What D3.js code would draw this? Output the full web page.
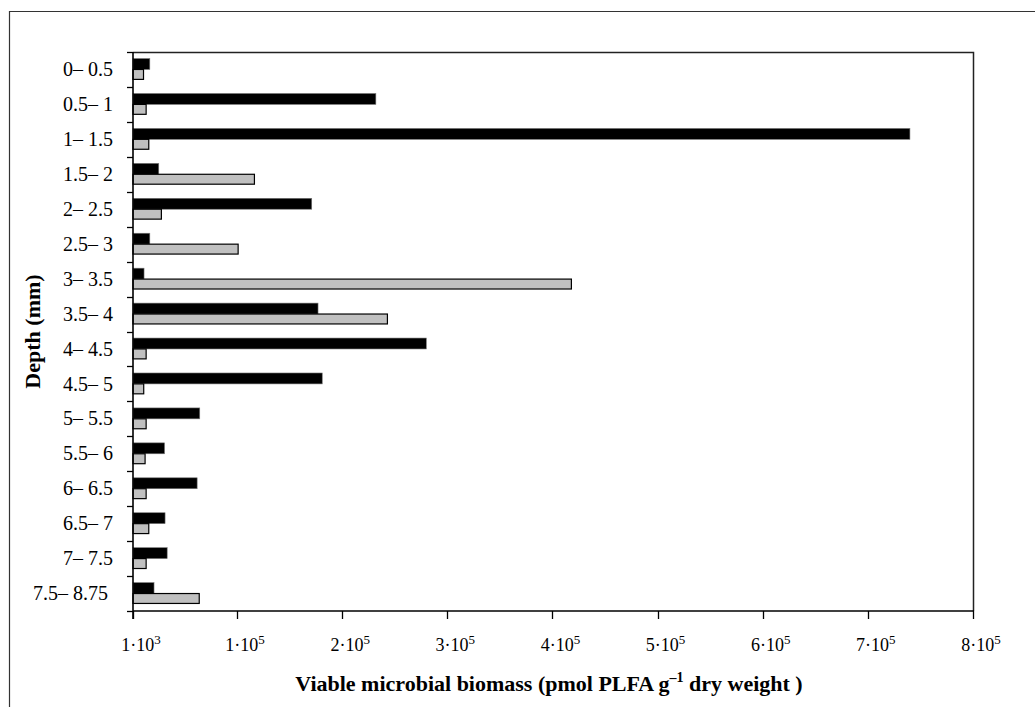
<!DOCTYPE html>
<html>
<head>
<meta charset="utf-8">
<script src="https://cdn.jsdelivr.net/npm/d3@7/dist/d3.min.js"></script>
<style>
  html, body { margin: 0; padding: 0; background: #fff; }
  svg { display: block; }
  text { font-family: "Liberation Serif", "Times New Roman", serif; fill: #000; white-space: pre; }
</style>
</head>
<body>
<svg id="chart" width="1035" height="707"></svg>
<script>
// ---- data ----
const depths = ["0– 0.5", "0.5– 1", "1– 1.5", "1.5– 2", "2– 2.5", "2.5– 3", "3– 3.5", "3.5– 4",
                "4– 4.5", "4.5– 5", "5– 5.5", "5.5– 6", "6– 6.5", "6.5– 7", "7– 7.5", "7.5– 8.75 "];
const seriesBlack = [17000, 232000, 740000, 25500, 171000, 17000, 11500, 177000,
                     280000, 181000, 64500, 31000, 62000, 31500, 33500, 21000];
const seriesGray  = [11000, 13500, 16000, 116500, 28000, 101000, 418000, 243000,
                     13500, 11200, 13500, 12500, 13500, 16000, 13500, 64000];
const seriesNames = ["black", "gray"];
const tickValues = [1000, 100000, 200000, 300000, 400000, 500000, 600000, 700000, 800000];
const tickMantissa = ["1", "1", "2", "3", "4", "5", "6", "7", "8"];
const tickExponent = ["3", "5", "5", "5", "5", "5", "5", "5", "5"];
const xTitle = "Viable microbial biomass (pmol PLFA g";
const yTitle = "Depth (mm)";

(function () {
// ---- layout ----
const svg = d3.select("#chart");
const pLeft = 133, pRight = 973, pTop = 52, pBottom = 611;

// outer frame (runs off right/bottom edge)
svg.append("path")
  .attr("d", `M9.5,${707 + 5} V11.5 H${1035 + 5}`)
  .attr("fill", "none").attr("stroke", "#333").attr("stroke-width", 1.2);

const x = d3.scaleLinear().domain([1000, 800000]).range([pLeft, pRight]);
const y = d3.scaleBand().domain(depths).range([pTop, pBottom]).padding(0);
const ys = d3.scaleBand().domain(seriesNames).range([0, y.bandwidth()])
  .paddingInner(0).paddingOuter(0.6);

// plot frame top/right
svg.append("path")
  .attr("d", `M${pLeft},${pTop + 0.5} H${pRight + 0.5} V${pBottom}`)
  .attr("fill", "none").attr("stroke", "#222").attr("stroke-width", 1.5);

// bars
const g = svg.append("g");
depths.forEach((d, i) => {
  g.append("rect")
    .attr("x", x(1000))
    .attr("y", y(d) + ys("black"))
    .attr("width", x(seriesBlack[i]) - x(1000))
    .attr("height", ys.bandwidth())
    .attr("fill", "#000")
    .attr("stroke", "#777").attr("stroke-width", 0.6);
  g.append("rect")
    .attr("x", x(1000))
    .attr("y", y(d) + ys("gray"))
    .attr("width", x(seriesGray[i]) - x(1000))
    .attr("height", ys.bandwidth() - 1)
    .attr("fill", "#c0c0c0")
    .attr("stroke", "#000").attr("stroke-width", 1.2);
});

// y axis
const yAxisG = svg.append("g");
yAxisG.append("line").attr("x1", pLeft).attr("x2", pLeft).attr("y1", pTop).attr("y2", pBottom + 8)
  .attr("stroke", "#000").attr("stroke-width", 1.6);
const boundaries = depths.map(d => y(d)).concat([pBottom]);
yAxisG.selectAll("line.tk").data(boundaries).enter().append("line")
  .attr("class", "tk")
  .attr("x1", pLeft - 6).attr("x2", pLeft)
  .attr("y1", d => Math.round(d) + 0.5).attr("y2", d => Math.round(d) + 0.5)
  .attr("stroke", "#000").attr("stroke-width", 1.3);
yAxisG.selectAll("text.lbl").data(depths).enter().append("text")
  .attr("class", "lbl")
  .attr("x", 113)
  .attr("y", d => y(d) + y.bandwidth() / 2)
  .attr("dy", "0.33em")
  .attr("text-anchor", "end")
  .attr("font-size", 20)
  .text(d => d);

// x axis
const xAxisG = svg.append("g");
xAxisG.append("line").attr("x1", pLeft).attr("x2", pRight + 1).attr("y1", pBottom).attr("y2", pBottom)
  .attr("stroke", "#000").attr("stroke-width", 1.6);
xAxisG.selectAll("line.tk").data(tickValues).enter().append("line")
  .attr("class", "tk")
  .attr("x1", d => Math.round(x(d)) + 0.5).attr("x2", d => Math.round(x(d)) + 0.5)
  .attr("y1", pBottom).attr("y2", pBottom + 8)
  .attr("stroke", "#000").attr("stroke-width", 1.3);
const tl = xAxisG.selectAll("text.lbl").data(tickValues).enter().append("text")
  .attr("class", "lbl")
  .attr("x", d => x(d) + 8)
  .attr("y", 651)
  .attr("text-anchor", "middle")
  .attr("font-size", 18);
tl.append("tspan").text((d, i) => tickMantissa[i] + "·10");
tl.append("tspan").attr("font-size", 13).attr("dy", -7).text((d, i) => tickExponent[i]);

// x title
const xt = svg.append("text")
  .attr("x", 549).attr("y", 691)
  .attr("text-anchor", "middle")
  .attr("font-size", 22).attr("font-weight", "bold");
xt.append("tspan").text(xTitle);
xt.append("tspan").attr("font-size", 14).attr("dy", -9).text("–1");
xt.append("tspan").attr("dy", 9).text(" dry weight )");

// y title
svg.append("text")
  .attr("transform", `translate(40,${(pTop + pBottom) / 2}) rotate(-90)`)
  .attr("text-anchor", "middle")
  .attr("font-size", 22).attr("font-weight", "bold")
  .text(yTitle);
})();
</script>
</body>
</html>
